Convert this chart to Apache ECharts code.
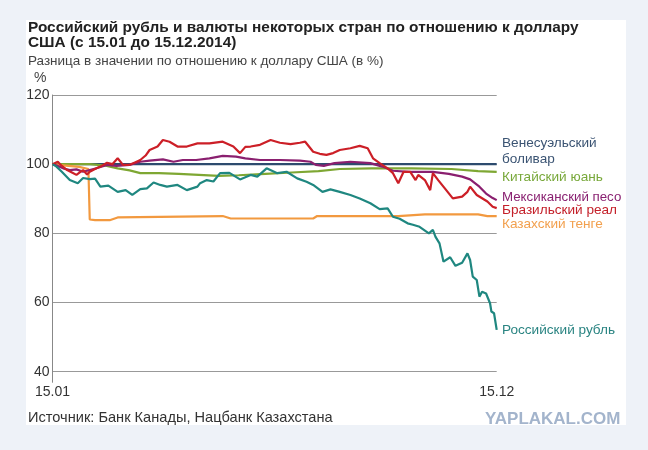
<!DOCTYPE html>
<html>
<head>
<meta charset="utf-8">
<script src="https://cdn.jsdelivr.net/npm/echarts@6/dist/echarts.min.js"></script>
<style>
  html, body { margin: 0; padding: 0; background: #eef2f8; }
  #chart { width: 648px; height: 450px; }
</style>
</head>
<body>
<div id="chart"></div>
<script>
// дни от 15.01 (0) до 15.12 (334), значения в % к доллару США
var xTicks = [0, 334];
var xTickLabels = ['15.01', '15.12'];

var venezuela = [[0, 100], [334, 100]];

var china = [[0, 100], [28, 100], [40, 99.6], [49, 98.8], [58, 98.2], [66, 97.4], [80, 97.4],
  [95, 97.2], [110, 96.9], [125, 96.6], [140, 96.8], [160, 97.2], [180, 97.6], [200, 98.0],
  [216, 98.6], [240, 98.8], [270, 98.8], [300, 98.6], [320, 98.0], [334, 97.8]];

var kazakhstan = [[0, 100], [10, 99.6], [20, 99.2], [27, 98.6], [28, 84.0], [32, 83.8], [43, 83.8],
  [49, 84.6], [50, 85.0], [128, 85.0], [134, 84.3], [196, 84.3], [199, 85.0], [260, 85.0],
  [280, 85.5], [320, 85.5], [327, 85.0], [334, 85.0]];

var mexico = [[0, 100], [4, 99.5], [8, 98.8], [13, 98.3], [18, 98.5], [23, 97.8], [28, 98.3],
  [33, 98.8], [41, 99.8], [48, 99.5], [58, 99.8], [66, 100.7], [73, 101.0], [83, 101.4],
  [91, 100.7], [98, 101.2], [108, 101.2], [118, 101.7], [128, 102.4], [138, 102.2], [145, 101.7],
  [156, 101.2], [171, 101.2], [186, 101.0], [194, 100.7], [198, 99.8], [204, 99.5], [212, 100.3],
  [224, 100.7], [239, 100.3], [248, 99.3], [256, 98.1], [268, 97.8], [286, 97.8], [298, 97.2],
  [308, 96.4], [314, 95.6], [321, 93.5], [326, 91.5], [331, 90.2], [334, 89.6]];

var brazil = [[0, 100], [4, 100.7], [7, 99.5], [11, 98.3], [15, 97.5], [18, 96.9], [21, 97.8],
  [23, 98.3], [26, 97.0], [28, 97.8], [33, 98.8], [37, 99.5], [41, 100.4], [45, 100.0],
  [49, 101.7], [53, 99.8], [58, 99.8], [62, 100.5], [66, 101.2], [70, 102.5], [73, 104.1],
  [79, 105.1], [83, 107.0], [88, 106.5], [94, 105.1], [101, 105.1], [109, 106.0], [118, 106.0],
  [128, 106.5], [136, 105.1], [141, 103.2], [145, 105.0], [149, 105.1], [156, 105.6], [164, 107.0],
  [171, 106.2], [179, 105.8], [186, 106.2], [190, 106.5], [196, 103.6], [201, 103.0], [206, 102.7],
  [211, 103.2], [216, 104.1], [224, 104.6], [231, 105.3], [237, 104.6], [241, 101.7], [246, 100.3],
  [252, 98.8], [256, 97.4], [260, 94.5], [264, 97.8], [269, 97.8], [273, 95.4], [275, 96.9],
  [280, 95.4], [284, 92.5], [286, 97.4], [290, 95.4], [295, 93.0], [301, 90.1], [308, 90.6],
  [312, 92.0], [314, 93.5], [319, 91.1], [327, 89.2], [331, 87.7], [334, 87.3]];

var russia = [[0, 100], [3, 99.3], [7, 97.8], [13, 95.4], [19, 94.5], [23, 96.0], [28, 95.7],
  [32, 95.8], [36, 93.5], [42, 93.8], [49, 92.0], [55, 92.5], [60, 91.1], [66, 92.8], [71, 93.0],
  [76, 94.7], [81, 94.0], [86, 93.5], [94, 94.0], [101, 92.5], [109, 93.5], [111, 94.5],
  [116, 95.4], [121, 95.0], [126, 97.4], [133, 97.5], [141, 95.6], [149, 96.9], [154, 96.4],
  [161, 98.8], [169, 97.4], [176, 97.8], [184, 95.9], [191, 94.9], [196, 94.0], [203, 92.0],
  [209, 92.7], [216, 92.0], [224, 91.1], [231, 90.1], [239, 88.7], [246, 87.0], [252, 87.2],
  [256, 84.8], [261, 84.2], [267, 82.9], [271, 82.5], [276, 81.9], [283, 80.0], [286, 81.0],
  [288, 79.0], [291, 77.1], [294, 71.8], [299, 73.1], [303, 70.6], [308, 71.5], [312, 74.2],
  [314, 72.3], [316, 67.5], [319, 66.5], [321, 61.7], [323, 63.1], [326, 62.6], [329, 59.8],
  [330, 57.4], [332, 56.9], [334, 52.1]];

var seriesNames = ['Венесуэльский боливар', 'Китайский юань', 'Казахский тенге',
  'Мексиканский песо', 'Бразильский реал', 'Российский рубль'];
var seriesData = [venezuela, china, kazakhstan, mexico, brazil, russia];
var seriesColors = ['#2d4b6e', '#7ea733', '#f2993f', '#8a1f6f', '#cc1f27', '#1f8780'];

var FONT = '"Liberation Sans", Arial, sans-serif';

var chart = echarts.init(document.getElementById('chart'));

function txt(text, x, y, size, color, weight) {
  return {
    type: 'text', x: x, y: y, z: 10,
    style: {
      text: text, fill: color, textVerticalAlign: 'middle',
      font: (weight || 'normal') + ' ' + size + 'px ' + FONT
    }
  };
}

var series = seriesData.map(function(d, i) {
  return {
    name: seriesNames[i], type: 'line', data: d,
    showSymbol: false, silent: true,
    lineStyle: { width: 2.2, color: seriesColors[i] },
    itemStyle: { color: seriesColors[i] }
  };
});

chart.setOption({
  backgroundColor: '#eef2f8',
  animation: false,
  grid: { left: 52.5, right: 151.3, top: 95, bottom: 78.3 },
  xAxis: {
    type: 'value', min: xTicks[0], max: xTicks[1], interval: xTicks[1] - xTicks[0],
    axisLine: { show: false },
    axisTick: { show: true, customValues: [0], length: 11, lineStyle: { color: '#888' } },
    axisLabel: {
      margin: 13, color: '#333', fontSize: 14, fontFamily: FONT,
      formatter: function(v) { return xTickLabels[xTicks.indexOf(v)] || ''; }
    },
    splitLine: { show: true, lineStyle: { color: '#999', width: 1 } }
  },
  yAxis: {
    type: 'value', min: 40, max: 120, interval: 20,
    axisLine: { show: true, lineStyle: { color: '#888' } },
    axisTick: { show: false },
    axisLabel: { margin: 3, color: '#333', fontSize: 14, fontFamily: FONT },
    splitLine: { show: true, lineStyle: { color: '#999', width: 1 } }
  },
  graphic: [
    { type: 'rect', z: -10, shape: { x: 26, y: 20, width: 600, height: 405 }, style: { fill: '#fff' } },
    txt('Российский рубль и валюты некоторых стран по отношению к доллару', 28, 27.5, 15.4, '#222', 'bold'),
    txt('США (с 15.01 до 15.12.2014)', 28, 43, 15.4, '#222', 'bold'),
    txt('Разница в значении по отношению к доллару США (в %)', 28, 61, 13.5, '#444'),
    txt('%', 34, 78, 14, '#444'),
    txt('Венесуэльский', 502, 143, 13.6, '#3b5473'),
    txt('боливар', 502, 159, 13.6, '#3b5473'),
    txt('Китайский юань', 502, 177, 13.6, '#78a83a'),
    txt('Мексиканский песо', 502, 197, 13.3, '#8a2272'),
    txt('Бразильский реал', 502, 210.5, 13.6, '#c4202a'),
    txt('Казахский тенге', 502, 224, 13.6, '#f2a04e'),
    txt('Российский рубль', 502, 330, 13.6, '#2a8482'),
    txt('Источник: Банк Канады, Нацбанк Казахстана', 28, 418, 14.6, '#333'),
    txt('YAPLAKAL.COM', 485, 419, 17, '#a3b4cc', 'bold')
  ],
  series: series
});
</script>
</body>
</html>
